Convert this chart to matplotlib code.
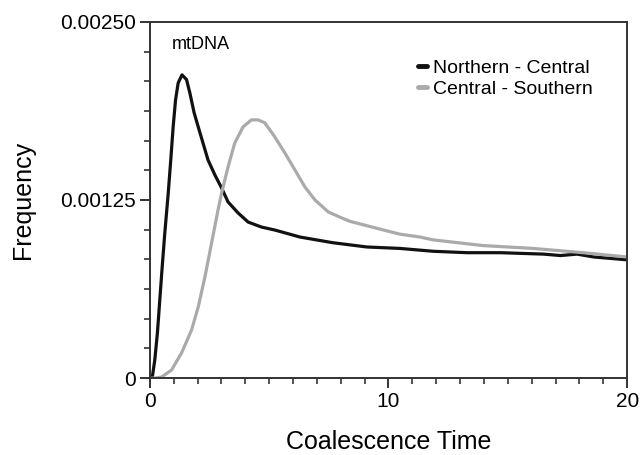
import matplotlib
matplotlib.use('Agg')
import matplotlib.pyplot as plt
from matplotlib.ticker import MultipleLocator
import numpy as np

plt.rcParams['font.family'] = ['Liberation Sans', 'DejaVu Sans']

# Northern - Central (frequency in units of 1e-3)
nc_x = [0.0, 0.1, 0.21, 0.32, 0.42, 0.52, 0.63, 0.77, 0.88, 0.98, 1.08, 1.19, 1.35,
        1.54, 1.68, 1.86, 2.03, 2.23, 2.44, 2.73, 3.01, 3.28, 3.70, 4.12, 4.68,
        5.24, 6.29, 7.67, 9.1, 10.48, 11.87, 13.3, 14.7, 16.5, 17.2, 17.9,
        18.6, 20.0]
nc_y = [0.0, 0.0, 0.126, 0.316, 0.548, 0.779, 1.018, 1.29, 1.531, 1.763, 1.952,
        2.071, 2.128, 2.095, 2.001, 1.861, 1.763, 1.650, 1.531, 1.425, 1.334,
        1.236, 1.159, 1.095, 1.060, 1.039, 0.99, 0.95, 0.92, 0.91, 0.89, 0.88,
        0.88, 0.87, 0.86, 0.87, 0.85, 0.83]

# Central - Southern
cs_x = [0.0, 0.21, 0.49, 0.91, 1.33, 1.75, 2.03, 2.31, 2.59, 2.86, 3.01, 3.28, 3.56,
        3.91, 4.26, 4.54, 4.82, 5.24, 5.66, 6.08, 6.50, 6.92, 7.48, 8.04, 8.39,
        9.77, 10.48, 11.32, 11.87, 13.96, 16.06, 18.16, 20.0]
cs_y = [0.0, 0.0, 0.007, 0.056, 0.176, 0.337, 0.499, 0.709, 0.948, 1.180, 1.299,
        1.482, 1.650, 1.763, 1.812, 1.812, 1.791, 1.692, 1.580, 1.461, 1.341,
        1.250, 1.166, 1.124, 1.10, 1.04, 1.01, 0.99, 0.97, 0.93, 0.91, 0.88, 0.85]

yticks = [0, 0.00125, 0.0025]
ytick_labels = ['0', '0.00125', '0.00250']
xticks = [0, 10, 20]

fig = plt.figure(figsize=(6.4, 4.55), dpi=100)
ax = fig.add_axes([0.234, 0.169, 0.746, 0.783])

ax.plot(np.array(nc_x), np.array(nc_y) * 1e-3, color='#111111', lw=2.3,
        label='Northern - Central', solid_capstyle='round', solid_joinstyle='round')
ax.plot(np.array(cs_x), np.array(cs_y) * 1e-3, color='#aaaaaa', lw=2.3,
        label='Central - Southern', solid_capstyle='round', solid_joinstyle='round')

ax.set_xlim(0, 20)
ax.set_ylim(0, 0.0025)
ax.set_xticks(xticks)
ax.set_yticks(yticks)
ax.set_yticklabels(ytick_labels)
ax.xaxis.set_minor_locator(MultipleLocator(1))
ax.yaxis.set_minor_locator(MultipleLocator(0.0025 / 12))

for s in ax.spines.values():
    s.set_color('#333333')
    s.set_linewidth(1.4)
ax.tick_params(which='major', direction='out', length=7, width=1.4,
               color='#333333', labelsize=15, pad=3)
ax.tick_params(which='minor', direction='out', length=4, width=1.2, color='#333333')

ax.set_xlabel('Coalescence Time', fontsize=18, labelpad=14)
ax.set_ylabel('Frequency', fontsize=18, labelpad=18)

ax.text(0.046, 0.935, 'mtDNA', transform=ax.transAxes, fontsize=13,
        va='center', ha='left')

leg = ax.legend(loc='upper left', bbox_to_anchor=(0.525, 0.945), frameon=False,
                fontsize=14, handlelength=0.45, handletextpad=0.35,
                labelspacing=0.2)
for line in leg.get_lines():
    line.set_linewidth(3.5)

fig.savefig('out.png', dpi=100)
